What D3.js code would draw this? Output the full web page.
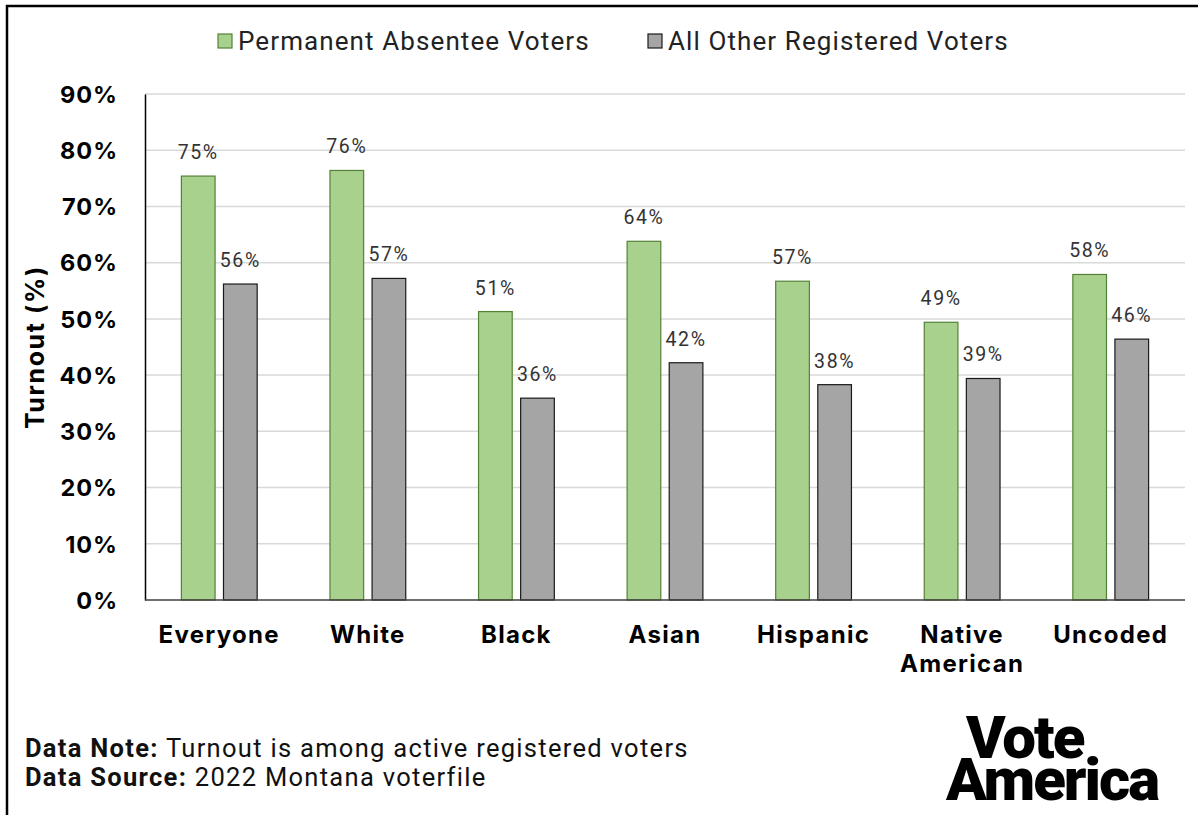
<!DOCTYPE html>
<html>
<head>
<meta charset="utf-8">
<script src="https://cdn.jsdelivr.net/npm/d3@7"></script>
<style>
  html, body { margin: 0; padding: 0; background: #fff; }
  svg { display: block; }
</style>
</head>
<body>
<svg id="chart" width="1198" height="815"></svg>
<script>
// Turnout by race/ethnicity, 2022 Montana voter file
const categories = ["Everyone", "White", "Black", "Asian", "Hispanic", "Native American", "Uncoded"];
const seriesNames = ["Permanent Absentee Voters", "All Other Registered Voters"];
const permanentAbsentee = [75.4, 76.4, 51.3, 63.8, 56.7, 49.4, 57.9];
const allOtherRegistered = [56.2, 57.2, 35.9, 42.2, 38.3, 39.4, 46.4];
const yTicks = [0, 10, 20, 30, 40, 50, 60, 70, 80, 90];

const fills = ["#a9d18e", "#a5a5a5"];
const strokes = ["#548235", "#1a1a1a"];

const svg = d3.select("#chart");
const W = 1198, H = 815;
const plot = { left: 145, right: 1185, top: 94, bottom: 600 };

// frame
svg.append("rect")
  .attr("x", 7).attr("y", 6)
  .attr("width", W + 20).attr("height", H + 20)
  .attr("fill", "#fff").attr("stroke", "#000").attr("stroke-width", 2.5);

const y = d3.scaleLinear().domain([0, 90]).range([plot.bottom, plot.top]);
const x = d3.scaleBand().domain(categories).range([plot.left, plot.right]).paddingInner(0).paddingOuter(0);
const bw = x.bandwidth();
const x1 = d3.scaleBand().domain(seriesNames).range([bw * 0.245, bw * 0.755]).paddingInner(0.2);

// gridlines
svg.append("g")
  .selectAll("line")
  .data(yTicks.filter(t => t > 0))
  .join("line")
  .attr("x1", plot.left).attr("x2", plot.right)
  .attr("y1", d => y(d)).attr("y2", d => y(d))
  .attr("stroke", "#d9d9d9").attr("stroke-width", 1.5);

// y axis
const yAxis = d3.axisLeft(y).tickValues(yTicks).tickSize(0).tickPadding(27).tickFormat(d => d + "%");
const gy = svg.append("g").attr("transform", `translate(${plot.left},0)`).call(yAxis);
gy.select(".domain").attr("stroke", "#000").attr("stroke-width", 1.5);
gy.selectAll("text")
  .attr("font-family", "Inter, 'Liberation Sans', Arial, sans-serif")
  .attr("font-weight", 700)
  .attr("font-size", 23.5)
  .attr("letter-spacing", 1)
  .attr("fill", "#000")
  .attr("dy", "0.35em");

// bars
const rows = categories.map((c, i) => ({ cat: c, vals: [permanentAbsentee[i], allOtherRegistered[i]] }));
const groups = svg.append("g").selectAll("g")
  .data(rows).join("g")
  .attr("transform", d => `translate(${x(d.cat)},0)`);

groups.selectAll("rect")
  .data(d => d.vals.map((v, k) => ({ v, k })))
  .join("rect")
  .attr("x", d => x1(seriesNames[d.k]))
  .attr("width", x1.bandwidth())
  .attr("y", d => y(d.v))
  .attr("height", d => y(0) - y(d.v))
  .attr("fill", d => fills[d.k])
  .attr("stroke", d => strokes[d.k])
  .attr("stroke-width", 1.2);

const pct = v => d3.format(".0f")(v) + "%";
groups.selectAll("text.val")
  .data(d => d.vals.map((v, k) => ({ v, k })))
  .join("text")
  .attr("class", "val")
  .attr("x", d => x1(seriesNames[d.k]) + x1.bandwidth() / 2)
  .attr("y", d => y(d.v) - 17)
  .attr("text-anchor", "middle")
  .attr("font-family", "Roboto, 'Noto Sans', sans-serif")
  .attr("font-size", 19.5)
  .attr("letter-spacing", 1.6)
  .attr("fill", "#333")
  .text(d => pct(d.v));

// x axis line
svg.append("line")
  .attr("x1", plot.left).attr("x2", plot.right)
  .attr("y1", y(0)).attr("y2", y(0))
  .attr("stroke", "#404040").attr("stroke-width", 1.5);

// category labels (wrapped onto two lines where needed)
const catLabels = svg.append("g").selectAll("text")
  .data(categories).join("text")
  .attr("x", d => x(d) + bw / 2)
  .attr("y", 643)
  .attr("text-anchor", "middle")
  .attr("font-family", "Inter, 'Liberation Sans', Arial, sans-serif")
  .attr("font-weight", 700)
  .attr("font-size", 24)
  .attr("letter-spacing", 1.3)
  .attr("fill", "#000");
catLabels.each(function (d) {
  const words = d.split(" ");
  const t = d3.select(this);
  words.forEach((w, i) => {
    t.append("tspan").attr("x", x(d) + bw / 2).attr("dy", i === 0 ? 0 : 29).text(w);
  });
});

// y axis title
svg.append("text")
  .attr("transform", `translate(44,${(plot.top + plot.bottom) / 2}) rotate(-90)`)
  .attr("text-anchor", "middle")
  .attr("font-family", "Inter, 'Liberation Sans', Arial, sans-serif")
  .attr("font-weight", 700)
  .attr("font-size", 25)
  .attr("letter-spacing", 1.6)
  .attr("fill", "#000")
  .text("Turnout (%)");

// legend
const legendItems = [
  { name: seriesNames[0], x: 218 },
  { name: seriesNames[1], x: 648 }
];
const lg = svg.append("g").selectAll("g").data(legendItems).join("g")
  .attr("transform", d => `translate(${d.x},34)`);
lg.append("rect")
  .attr("width", 14).attr("height", 14)
  .attr("fill", (d, i) => fills[i])
  .attr("stroke", (d, i) => strokes[i]).attr("stroke-width", 1.2);
lg.append("text")
  .attr("x", 20).attr("y", 16)
  .attr("font-family", "Roboto, 'Noto Sans', sans-serif")
  .attr("font-size", 26)
  .attr("letter-spacing", 1.1)
  .attr("fill", "#222")
  .text(d => d.name);

// notes
const notes = [
  { label: "Data Note:", text: " Turnout is among active registered voters", y: 757 },
  { label: "Data Source:", text: " 2022 Montana voterfile", y: 786 }
];
const nt = svg.append("g").selectAll("text").data(notes).join("text")
  .attr("x", 25).attr("y", d => d.y)
  .attr("font-family", "Roboto, 'Noto Sans', sans-serif")
  .attr("font-size", 25.5)
  .attr("letter-spacing", 1.3)
  .attr("fill", "#111");
nt.append("tspan").attr("font-weight", 700).text(d => d.label);
nt.append("tspan").text(d => d.text);

// wordmark
const logo = svg.append("text")
  .attr("font-family", "Roboto, 'Liberation Sans', Arial, sans-serif")
  .attr("font-weight", 900)
  .attr("font-size", 60)
  .attr("letter-spacing", -2)
  .attr("fill", "#000");
logo.append("tspan").attr("x", 966).attr("y", 758).text("Vote");
logo.append("tspan").attr("x", 946).attr("y", 800).text("America");
</script>
</body>
</html>
